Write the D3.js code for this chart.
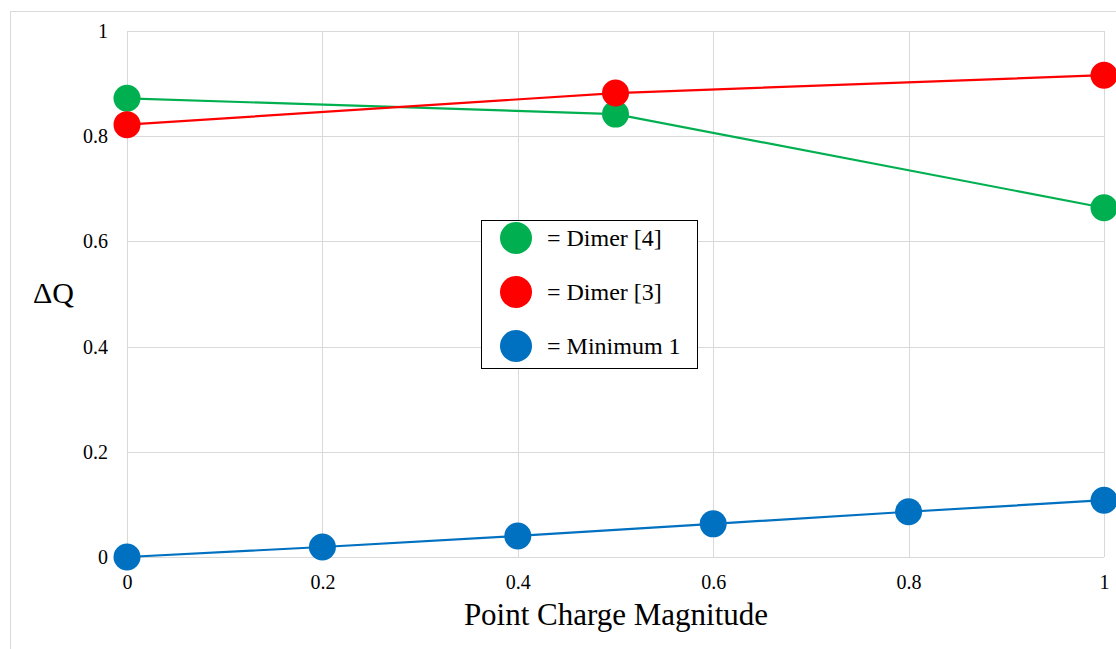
<!DOCTYPE html>
<html>
<head>
<meta charset="utf-8">
<script src="https://cdn.jsdelivr.net/npm/d3@7"></script>
<style>
  body { margin: 0; background: #fff; }
  text { font-family: "Liberation Serif", "Times New Roman", serif; fill: #000; }
</style>
</head>
<body>
<svg id="chart" width="1116" height="649"></svg>
<script>
// data
const xTicks = [0, 0.2, 0.4, 0.6, 0.8, 1];
const yTicks = [0, 0.2, 0.4, 0.6, 0.8, 1];
const tickLabels = ['0', '0.2', '0.4', '0.6', '0.8', '1'];

const dimer4X = [0, 0.5, 1];
const dimer4Y = [0.872, 0.842, 0.664];
const dimer3X = [0, 0.5, 1];
const dimer3Y = [0.822, 0.882, 0.916];
const minimum1X = [0, 0.2, 0.4, 0.6, 0.8, 1];
const minimum1Y = [0, 0.019, 0.040, 0.063, 0.086, 0.108];

const seriesNames = ['= Dimer [4]', '= Dimer [3]', '= Minimum 1'];
const seriesColors = ['#00b050', '#ff0000', '#0070c0'];

const series = [
    { name: seriesNames[0], color: seriesColors[0], pts: dimer4X.map((x, i) => ({ x: x, y: dimer4Y[i] })) },
    { name: seriesNames[1], color: seriesColors[1], pts: dimer3X.map((x, i) => ({ x: x, y: dimer3Y[i] })) },
    { name: seriesNames[2], color: seriesColors[2], pts: minimum1X.map((x, i) => ({ x: x, y: minimum1Y[i] })) }
];

const svg = d3.select('#chart');
const plot = { left: 127, right: 1104, top: 31, bottom: 557 };

const x = d3.scaleLinear().domain([0, 1]).range([plot.left, plot.right]);
const y = d3.scaleLinear().domain([0, 1]).range([plot.bottom, plot.top]);

// outer chart frame (runs off the right and bottom edge)
svg.append('rect')
    .attr('x', 10.5).attr('y', 11.5)
    .attr('width', 1300).attr('height', 800)
    .attr('fill', 'none').attr('stroke', '#d9d9d9');

// grid
const grid = svg.append('g').attr('stroke', '#d9d9d9').attr('stroke-width', 1);
grid.selectAll('line.v').data(xTicks).join('line')
    .attr('x1', d => Math.round(x(d)) + 0.5).attr('x2', d => Math.round(x(d)) + 0.5)
    .attr('y1', plot.top).attr('y2', plot.bottom);
grid.selectAll('line.h').data(yTicks).join('line')
    .attr('y1', d => Math.round(y(d)) + 0.5).attr('y2', d => Math.round(y(d)) + 0.5)
    .attr('x1', plot.left).attr('x2', plot.right);

// axes via d3 axis, only labels kept
const xAxis = svg.append('g')
    .attr('transform', `translate(0,${plot.bottom})`)
    .call(d3.axisBottom(x).tickValues(xTicks).tickFormat((d, i) => tickLabels[i]).tickSize(0).tickPadding(18));
xAxis.select('.domain').remove();
xAxis.selectAll('text')
    .attr('font-size', 20)
    .attr('fill', '#000');

const yAxis = svg.append('g')
    .attr('transform', `translate(${plot.left},0)`)
    .call(d3.axisLeft(y).tickValues(yTicks).tickFormat((d, i) => tickLabels[i]).tickSize(0).tickPadding(19));
yAxis.select('.domain').remove();
yAxis.selectAll('text')
    .attr('font-size', 20)
    .attr('fill', '#000');

// series lines + markers
const line = d3.line().x(d => x(d.x)).y(d => y(d.y));
const marks = svg.append('g');
series.forEach(s => {
    marks.append('path')
        .datum(s.pts)
        .attr('d', line)
        .attr('fill', 'none')
        .attr('stroke', s.color)
        .attr('stroke-width', 2.2);
});
series.forEach(s => {
    marks.selectAll(null).data(s.pts).join('circle')
        .attr('cx', d => x(d.x))
        .attr('cy', d => y(d.y))
        .attr('r', 13.5)
        .attr('fill', s.color);
});

// axis titles
svg.append('text')
    .attr('x', 616).attr('y', 625)
    .attr('text-anchor', 'middle')
    .attr('font-size', 31)
    .text('Point Charge Magnitude');
svg.append('text')
    .attr('x', 33).attr('y', 303)
    .attr('font-size', 30)
    .text('\u0394Q');

// legend
const legend = svg.append('g');
legend.append('rect')
    .attr('x', 481.5).attr('y', 220.5)
    .attr('width', 216).attr('height', 148)
    .attr('fill', '#fff').attr('stroke', '#000').attr('stroke-width', 1);
const legendY = [238, 292, 346];
series.forEach((s, i) => {
    legend.append('circle')
        .attr('cx', 516).attr('cy', legendY[i]).attr('r', 16)
        .attr('fill', s.color);
    legend.append('text')
        .attr('x', 547).attr('y', legendY[i] + 8)
        .attr('font-size', 24)
        .text(s.name);
});
</script>
</body>
</html>
